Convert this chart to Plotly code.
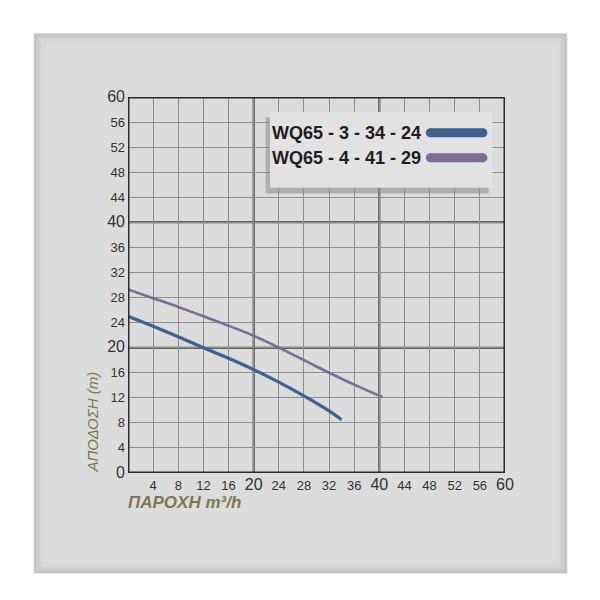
import plotly.graph_objects as go

# Data
flow_a = [0, 4, 8, 12, 16, 20, 24, 28, 32, 34]
head_a = [25.0, 23.4, 21.75, 20.0, 18.3, 16.5, 14.5, 12.3, 9.9, 8.5]
flow_b = [0, 4, 8, 12, 16, 20, 24, 28, 32, 36, 40.5]
head_b = [29.3, 27.9, 26.5, 25.0, 23.5, 21.9, 20.0, 18.0, 16.0, 14.1, 12.1]
names = ["WQ65 - 3 - 34 - 24", "WQ65 - 4 - 41 - 29"]
colors = ["#3f6190", "#7c6d94"]
x_ticks = list(range(4, 61, 4))
y_ticks = list(range(0, 61, 4))
major = [0, 20, 40, 60]

def lab(v):
    if v in major:
        return f"<span style='font-size:16px'>{v}</span>"
    return str(v)

fig = go.Figure()
fig.add_trace(go.Scatter(x=flow_a, y=head_a, mode="lines", line=dict(color=colors[0], width=3.2, shape="spline", smoothing=0.8), showlegend=False))
fig.add_trace(go.Scatter(x=flow_b, y=head_b, mode="lines", line=dict(color=colors[1], width=2.6, shape="spline", smoothing=0.8), showlegend=False))

shapes = []
# panel with shaded edges
X0, X1, Y0, Y1 = -0.249, 1.164, -0.266, 1.168
shapes.append(dict(type="rect", xref="paper", yref="paper", x0=X0, x1=X1, y0=Y0, y1=Y1,
                   fillcolor="#c2c2c2", line=dict(color="#cccccc", width=1), layer="below"))
for i, c in enumerate(["#c8c8c8", "#cdcdcd", "#d2d2d2", "#d6d6d6", "#d9d9d9"]):
    d = 0.004 * (i + 1)
    shapes.append(dict(type="rect", xref="paper", yref="paper", x0=X0 + d, x1=X1 - d, y0=Y0 + d, y1=Y1 - d,
                       fillcolor=c, line=dict(width=0), layer="below"))
shapes.append(dict(type="rect", xref="paper", yref="paper", x0=X0 + 0.03, x1=X1 - 0.03, y0=Y0 + 0.03, y1=Y1 - 0.03,
                   fillcolor="#dcdcdc", line=dict(width=0), layer="below"))
# major grid lines
for v in [20, 40]:
    shapes.append(dict(type="line", xref="x", yref="y", x0=v, x1=v, y0=0, y1=60, line=dict(color="#3a3a3a", width=2), layer="below"))
    shapes.append(dict(type="line", xref="x", yref="y", x0=0, x1=60, y0=v, y1=v, line=dict(color="#3a3a3a", width=2), layer="below"))
# frame
shapes.append(dict(type="rect", xref="x", yref="y", x0=0, x1=60, y0=0, y1=60, line=dict(color="#2a2a2a", width=3), fillcolor="rgba(0,0,0,0)"))
# legend box with shadow
shapes.append(dict(type="rect", xref="x", yref="y", x0=21.9, x1=57.4, y0=44.6, y1=56.8, fillcolor="#8a8a8a", line=dict(width=0), opacity=0.55))
shapes.append(dict(type="rect", xref="x", yref="y", x0=22.6, x1=58.0, y0=45.5, y1=57.6, fillcolor="#e2e2e2", line=dict(width=0)))

def pill(x0, x1, yc, h, color):
    r = h / 2
    return [
        dict(type="rect", xref="x", yref="y", x0=x0 + r, x1=x1 - r, y0=yc - r, y1=yc + r, fillcolor=color, line=dict(width=0)),
        dict(type="circle", xref="x", yref="y", x0=x0, x1=x0 + h, y0=yc - r, y1=yc + r, fillcolor=color, line=dict(width=0)),
        dict(type="circle", xref="x", yref="y", x0=x1 - h, x1=x1, y0=yc - r, y1=yc + r, fillcolor=color, line=dict(width=0)),
    ]

shapes += pill(47.4, 57.2, 54.3, 1.45, colors[0])
shapes += pill(47.4, 57.2, 50.3, 1.45, colors[1])

annotations = []
for yv, name in zip([54.3, 50.3], names):
    annotations.append(dict(x=46.9, y=yv, xref="x", yref="y", text=name, showarrow=False, xanchor="right", yanchor="middle",
                            font=dict(family="Liberation Sans", size=18, color="#1e1e1e", weight="bold")))
annotations.append(dict(x=-0.093, y=-0.003, xref="paper", yref="paper", text="<i>ΑΠΟΔΟΣΗ (m)</i>", textangle=-90,
                        showarrow=False, xanchor="center", yanchor="bottom",
                        font=dict(family="Liberation Sans, Arial", size=15, color="#7b7a4e")))
annotations.append(dict(x=-0.006, y=-0.078, xref="paper", yref="paper", text="<b><i>ΠΑΡΟΧΗ m³/h</i></b>",
                        showarrow=False, xanchor="left", yanchor="middle",
                        font=dict(family="Liberation Sans, Arial", size=17, color="#7b7a4e")))

fig.update_layout(
    width=600, height=600,
    margin=dict(l=120, r=103, t=89, b=135),
    paper_bgcolor="white", plot_bgcolor="#dcdcdc",
    shapes=shapes, annotations=annotations,
    xaxis=dict(range=[0, 60], tickvals=x_ticks, ticktext=[lab(v) for v in x_ticks], showgrid=True,
               gridcolor="#8e8e8e", gridwidth=1, zeroline=False, showline=False, ticks="",
               tickfont=dict(family="Liberation Sans, Arial", size=13, color="#333"), ticklabelstandoff=3),
    yaxis=dict(range=[0, 60], tickvals=y_ticks, ticktext=[lab(v) for v in y_ticks], showgrid=True,
               gridcolor="#8e8e8e", gridwidth=1, zeroline=False, showline=False, ticks="",
               tickfont=dict(family="Liberation Sans, Arial", size=13, color="#333"), ticklabelstandoff=2),
)
fig.write_html("out.html")
